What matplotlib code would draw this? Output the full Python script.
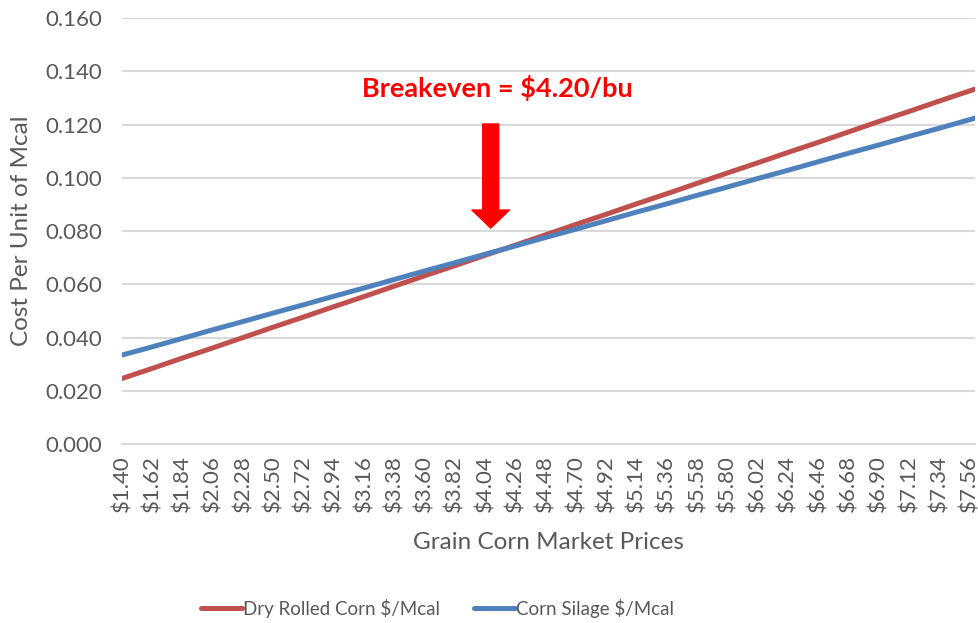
import matplotlib
matplotlib.use("Agg")
import matplotlib.pyplot as plt

# grain corn market price ($/bu) and cost per Mcal
prices = [1.40, 1.62, 1.84, 2.06, 2.28, 2.50, 2.72, 2.94, 3.16, 3.38,
          3.60, 3.82, 4.04, 4.26, 4.48, 4.70, 4.92, 5.14, 5.36, 5.58,
          5.80, 6.02, 6.24, 6.46, 6.68, 6.90, 7.12, 7.34, 7.56, 7.60]
dry_rolled = [0.0246, 0.0284, 0.0323, 0.0361, 0.0400, 0.0439, 0.0477, 0.0516,
              0.0554, 0.0593, 0.0632, 0.0670, 0.0709, 0.0747, 0.0786, 0.0825,
              0.0863, 0.0902, 0.0940, 0.0979, 0.1018, 0.1056, 0.1095, 0.1133,
              0.1172, 0.1211, 0.1249, 0.1288, 0.1326, 0.1333]
silage = [0.0334, 0.0365, 0.0397, 0.0429, 0.0460, 0.0492, 0.0523, 0.0555,
          0.0586, 0.0618, 0.0650, 0.0681, 0.0713, 0.0744, 0.0776, 0.0807,
          0.0839, 0.0871, 0.0902, 0.0934, 0.0965, 0.0997, 0.1028, 0.1060,
          0.1092, 0.1123, 0.1155, 0.1186, 0.1218, 0.1224]
tick_prices = prices[:-1]
tick_labels = [f"${p:.2f}" for p in tick_prices]
y_ticks = [0.000, 0.020, 0.040, 0.060, 0.080, 0.100, 0.120, 0.140, 0.160]

breakeven_x = 4.08
breakeven_label = "Breakeven = $4.20/bu"

TXT = "#595959"
GRID = "#D9D9D9"
plt.rcParams["font.family"] = ["Lato", "DejaVu Sans"]

fig = plt.figure(figsize=(9.79, 6.23), dpi=100)
ax = fig.add_axes([0.1246, 0.2873, 0.8713, 0.6838])

ax.plot(prices, dry_rolled, color="#C0504D", lw=3.6, solid_capstyle="round",
        label="Dry Rolled Corn $/Mcal", zorder=3)
ax.plot(prices, silage, color="#4F81BD", lw=3.6, solid_capstyle="round",
        label="Corn Silage $/Mcal", zorder=3)

ax.set_xlim(prices[0], prices[-1])
ax.set_ylim(0, 0.16)
ax.set_yticks(y_ticks)
ax.set_yticklabels([f"{v:.3f}" for v in y_ticks])
ax.set_xticks(tick_prices)
ax.set_xticklabels(tick_labels, rotation=90)
ax.tick_params(axis="both", length=0, labelsize=16, colors=TXT)
ax.tick_params(axis="y", pad=14)
ax.tick_params(axis="x", pad=8)
ax.grid(axis="y", color=GRID, lw=1.5)
ax.set_axisbelow(True)
for side in ["top", "right", "left"]:
    ax.spines[side].set_visible(False)
ax.spines["bottom"].set_color(GRID)
ax.spines["bottom"].set_linewidth(1.5)

ax.set_xlabel("Grain Corn Market Prices", fontsize=17.5, color=TXT, labelpad=14)
ax.set_ylabel("Cost Per Unit of Mcal", fontsize=17.5, color=TXT, labelpad=10)

# breakeven callout
ax.text(4.13, 0.1337, breakeven_label, color="red", fontsize=19.5,
        fontweight="bold", ha="center", va="center")
ax.annotate("", xy=(breakeven_x, 0.0811), xytext=(breakeven_x, 0.1202),
            arrowprops=dict(arrowstyle="simple,head_length=1.3,head_width=2.7,tail_width=1.15",
                            color="red", mutation_scale=10, shrinkA=0, shrinkB=0))

fig.legend(loc="center", bbox_to_anchor=(0.447, 0.024), ncol=2, frameon=False,
           fontsize=13.5, labelcolor=TXT, handlelength=2.2, handletextpad=0.05,
           columnspacing=1.8)

fig.savefig("out.png", dpi=100)
